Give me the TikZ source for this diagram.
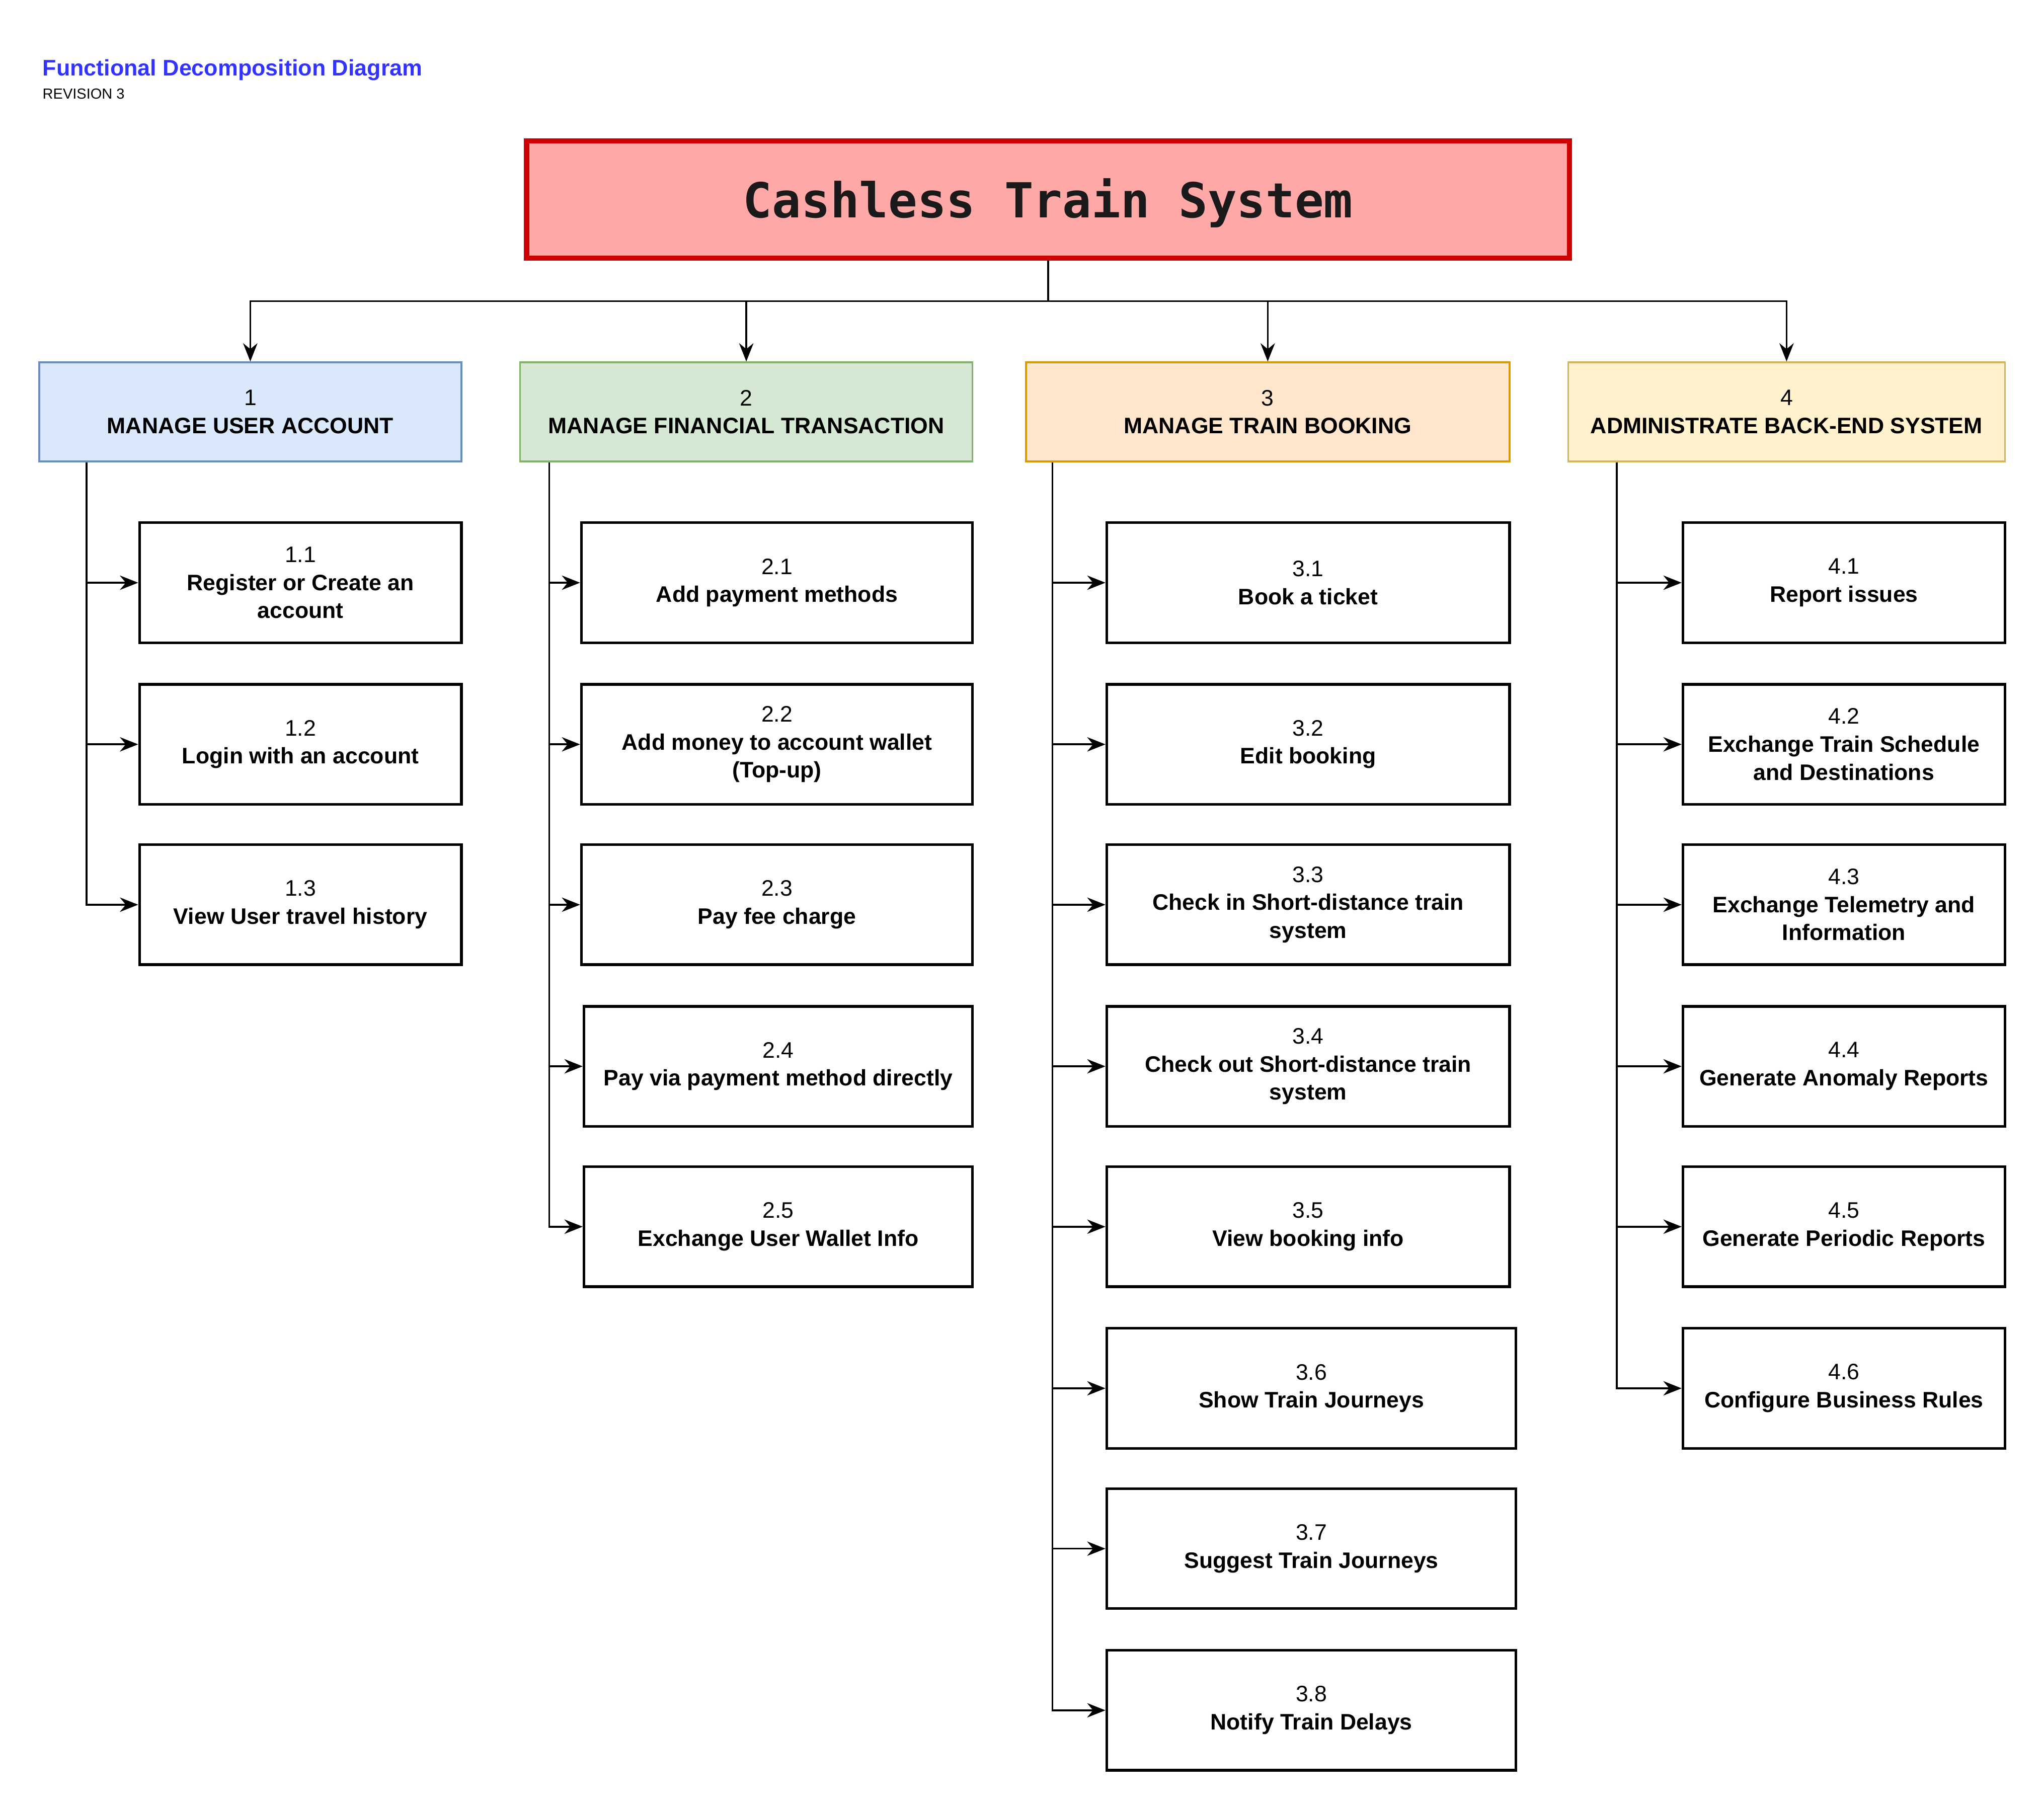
\documentclass[tikz,border=0pt]{standalone}
\usepackage{fontspec}
\setmainfont{Liberation Sans}
\newfontfamily\rootmono{DejaVu Sans Mono}
\usetikzlibrary{arrows.meta}

\definecolor{rootfill}{HTML}{FFA8A8}
\definecolor{rootline}{HTML}{CC0000}
\definecolor{headblue}{HTML}{3333FF}
\definecolor{acctfill}{HTML}{DAE8FC}
\definecolor{acctline}{HTML}{6C8EBF}
\definecolor{finfill}{HTML}{D5E8D4}
\definecolor{finline}{HTML}{82B366}
\definecolor{bookfill}{HTML}{FFE6CC}
\definecolor{bookline}{HTML}{D79B00}
\definecolor{admfill}{HTML}{FFF2CC}
\definecolor{admline}{HTML}{D6B656}

\tikzset{every picture/.style={line width=1.4pt}}
\tikzset{
  boxtext/.style={font=\fontsize{17.2}{21.5}\selectfont, align=center, inner sep=0pt},
  mainfn/.style={boxtext, draw, line width=1.4pt, minimum height=76pt},
  subfn/.style={boxtext, draw=black, line width=2pt, minimum height=92pt},
  conn/.style={draw=black, line width=1.4pt, -{Stealth[length=14pt,width=11pt,inset=4.5pt]}},
}

\begin{document}
\begin{tikzpicture}[x=1pt,y=1pt,yscale=-1,xscale=1]
\useasboundingbox (0,0) rectangle (1568,1387.5);

% Heading
\node (hd) [anchor=base west, inner sep=0pt, text=headblue, font=\fontsize{17.3}{20}\selectfont\bfseries] at (32,58) {Functional Decomposition Diagram};
\node (rev) [anchor=base west, inner sep=0pt, font=\fontsize{11.2}{13}\selectfont] at (32,76) {REVISION 3};

% Root
\node (root) [draw=rootline, fill=rootfill, line width=4pt, minimum width=800pt, minimum height=90pt, inner sep=0pt, font=\rootmono\bfseries\fontsize{37}{40}\selectfont, text={rgb,255:red,26;green,26;blue,26}] at (804,153) {\raisebox{-14pt}[0pt][0pt]{Cashless Train System}};

% Main functions
\node (m1) [mainfn, draw=acctline, fill=acctfill, minimum width=324pt] at (192,316) {1\\\textbf{MANAGE USER ACCOUNT}};
\node (m2) [mainfn, draw=finline, fill=finfill, minimum width=347pt] at (572.5,316) {2\\\textbf{MANAGE FINANCIAL TRANSACTION}};
\node (m3) [mainfn, draw=bookline, fill=bookfill, minimum width=371pt] at (972.5,316) {3\\\textbf{MANAGE TRAIN BOOKING}};
\node (m4) [mainfn, draw=admline, fill=admfill, minimum width=335pt] at (1370.5,316) {4\\\textbf{ADMINISTRATE BACK-END SYSTEM}};

% Sub functions 1
\node (s11) [subfn, minimum width=247pt] at (230.5,447) {1.1\\\textbf{Register or Create an}\\\textbf{account}};
\node (s12) [subfn, minimum width=247pt] at (230.5,571) {1.2\\\textbf{Login with an account}};
\node (s13) [subfn, minimum width=247pt] at (230.5,694) {1.3\\\textbf{View User travel history}};

% Sub functions 2
\node (s21) [subfn, minimum width=300pt] at (596,447) {2.1\\\textbf{Add payment methods}};
\node (s22) [subfn, minimum width=300pt] at (596,571) {2.2\\\textbf{Add money to account wallet}\\\textbf{(Top-up)}};
\node (s23) [subfn, minimum width=300pt] at (596,694) {2.3\\\textbf{Pay fee charge}};
\node (s24) [subfn, minimum width=298pt] at (597,818) {2.4\\\textbf{Pay via payment method directly}};
\node (s25) [subfn, minimum width=298pt] at (597,941) {2.5\\\textbf{Exchange User Wallet Info}};

% Sub functions 3
\node (s31) [subfn, minimum width=309pt] at (1003.5,447) {3.1\\\textbf{Book a ticket}};
\node (s32) [subfn, minimum width=309pt] at (1003.5,571) {3.2\\\textbf{Edit booking}};
\node (s33) [subfn, minimum width=309pt] at (1003.5,694) {3.3\\\textbf{Check in Short-distance train}\\\textbf{system}};
\node (s34) [subfn, minimum width=309pt] at (1003.5,818) {3.4\\\textbf{Check out Short-distance train}\\\textbf{system}};
\node (s35) [subfn, minimum width=309pt] at (1003.5,941) {3.5\\\textbf{View booking info}};
\node (s36) [subfn, minimum width=314pt] at (1006,1065) {3.6\\\textbf{Show Train Journeys}};
\node (s37) [subfn, minimum width=314pt] at (1006,1188) {3.7\\\textbf{Suggest Train Journeys}};
\node (s38) [subfn, minimum width=314pt] at (1006,1312) {3.8\\\textbf{Notify Train Delays}};

% Sub functions 4
\node (s41) [subfn, minimum width=247pt] at (1414.5,447) {4.1\\\textbf{Report issues}};
\node (s42) [subfn, minimum width=247pt] at (1414.5,571) {4.2\\\textbf{Exchange Train Schedule}\\\textbf{and Destinations}};
\node (s43) [subfn, minimum width=247pt] at (1414.5,694) {4.3\\\textbf{Exchange Telemetry and}\\\textbf{Information}};
\node (s44) [subfn, minimum width=247pt] at (1414.5,818) {4.4\\\textbf{Generate Anomaly Reports}};
\node (s45) [subfn, minimum width=247pt] at (1414.5,941) {4.5\\\textbf{Generate Periodic Reports}};
\node (s46) [subfn, minimum width=247pt] at (1414.5,1065) {4.6\\\textbf{Configure Business Rules}};

% Connection root to main functions
\coordinate (bus) at (804,231);
\draw (root.south) -- (bus);
\foreach \m in {m1,m2,m3,m4}
  \draw [conn] (bus) -| (\m.north);

% Connection main to sub functions
\foreach \s in {s11,s12,s13}
  \draw [conn] ([xshift=37pt]m1.south west) |- (\s.west);
\foreach \s in {s21,s22,s23,s24,s25}
  \draw [conn] ([xshift=23pt]m2.south west) |- (\s.west);
\foreach \s in {s31,s32,s33,s34,s35,s36,s37,s38}
  \draw [conn] ([xshift=21pt]m3.south west) |- (\s.west);
\foreach \s in {s41,s42,s43,s44,s45,s46}
  \draw [conn] ([xshift=38pt]m4.south west) |- (\s.west);

\end{tikzpicture}
\end{document}
